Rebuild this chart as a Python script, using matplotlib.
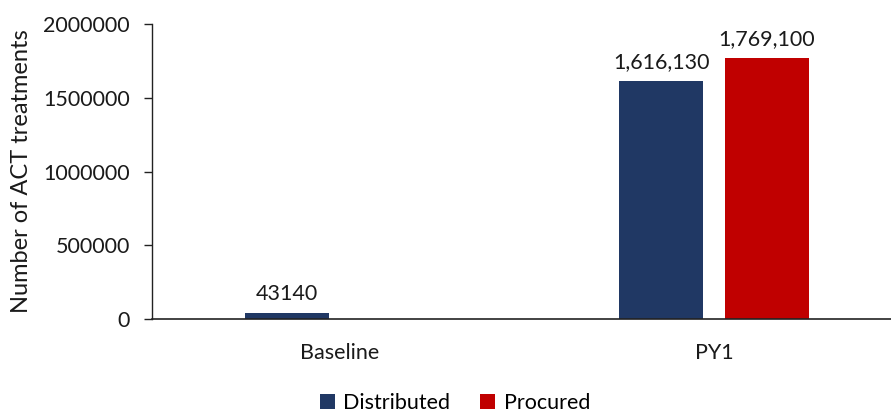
import matplotlib
matplotlib.use("Agg")
import matplotlib.pyplot as plt
import numpy as np

categories = ["Baseline", "PY1"]
distributed = [43140, 1616130]
procured = [0, 1769100]
dist_labels = ["43140", "1,616,130"]
proc_labels = [None, "1,769,100"]
yticks = [0, 500000, 1000000, 1500000, 2000000]

plt.rcParams['font.family'] = ['Lato', 'DejaVu Sans']

fig = plt.figure(figsize=(8.91, 4.12), dpi=100)
ax = fig.add_axes([152/891, 1-319/412, (891-152)/891, (319-24)/412])

x = np.arange(len(categories))
w = 0.224
off = 0.141
c_dist = "#203864"
c_proc = "#C00000"
b1 = ax.bar(x - off, distributed, w, color=c_dist, label="Distributed")
b2 = ax.bar(x + off, procured, w, color=c_proc, label="Procured")

fs = 15.5
for i in range(len(categories)):
    ax.text(x[i] - off, distributed[i] + 60000, dist_labels[i], ha="center", va="bottom",
            fontsize=fs, color="#1a1a1a")
    if proc_labels[i]:
        ax.text(x[i] + off, procured[i] + 60000, proc_labels[i], ha="center", va="bottom",
                fontsize=fs, color="#1a1a1a")

ax.set_xlim(-0.5, 1.472)
ax.set_ylim(0, 2000000)
ax.set_yticks(yticks)
ax.set_yticklabels([str(v) for v in yticks], fontsize=fs, color="#1a1a1a")
ax.set_xticks(x)
ax.set_xticklabels(categories, fontsize=fs, color="#1a1a1a")
ax.tick_params(axis="x", length=0, pad=17)
ax.tick_params(axis="y", length=6, width=1, direction="out", pad=10, color="#222222")

for s in ["top", "right"]:
    ax.spines[s].set_visible(False)
ax.spines["left"].set_color("#222222")
ax.spines["bottom"].set_color("#222222")
ax.spines["left"].set_linewidth(1)
ax.spines["bottom"].set_linewidth(1.2)

ax.set_ylabel("Number of ACT treatments", fontsize=17, color="#1a1a1a")
ax.yaxis.set_label_coords(-(152-32)/739, 0.5)

leg = fig.legend(handles=[b1, b2], loc="center", bbox_to_anchor=(455/891, 1-403/412),
                 ncol=2, frameon=False, fontsize=fs, handlelength=0.7, handleheight=0.7,
                 handletextpad=0.4, columnspacing=1.4)

fig.savefig("out.png", dpi=100)
